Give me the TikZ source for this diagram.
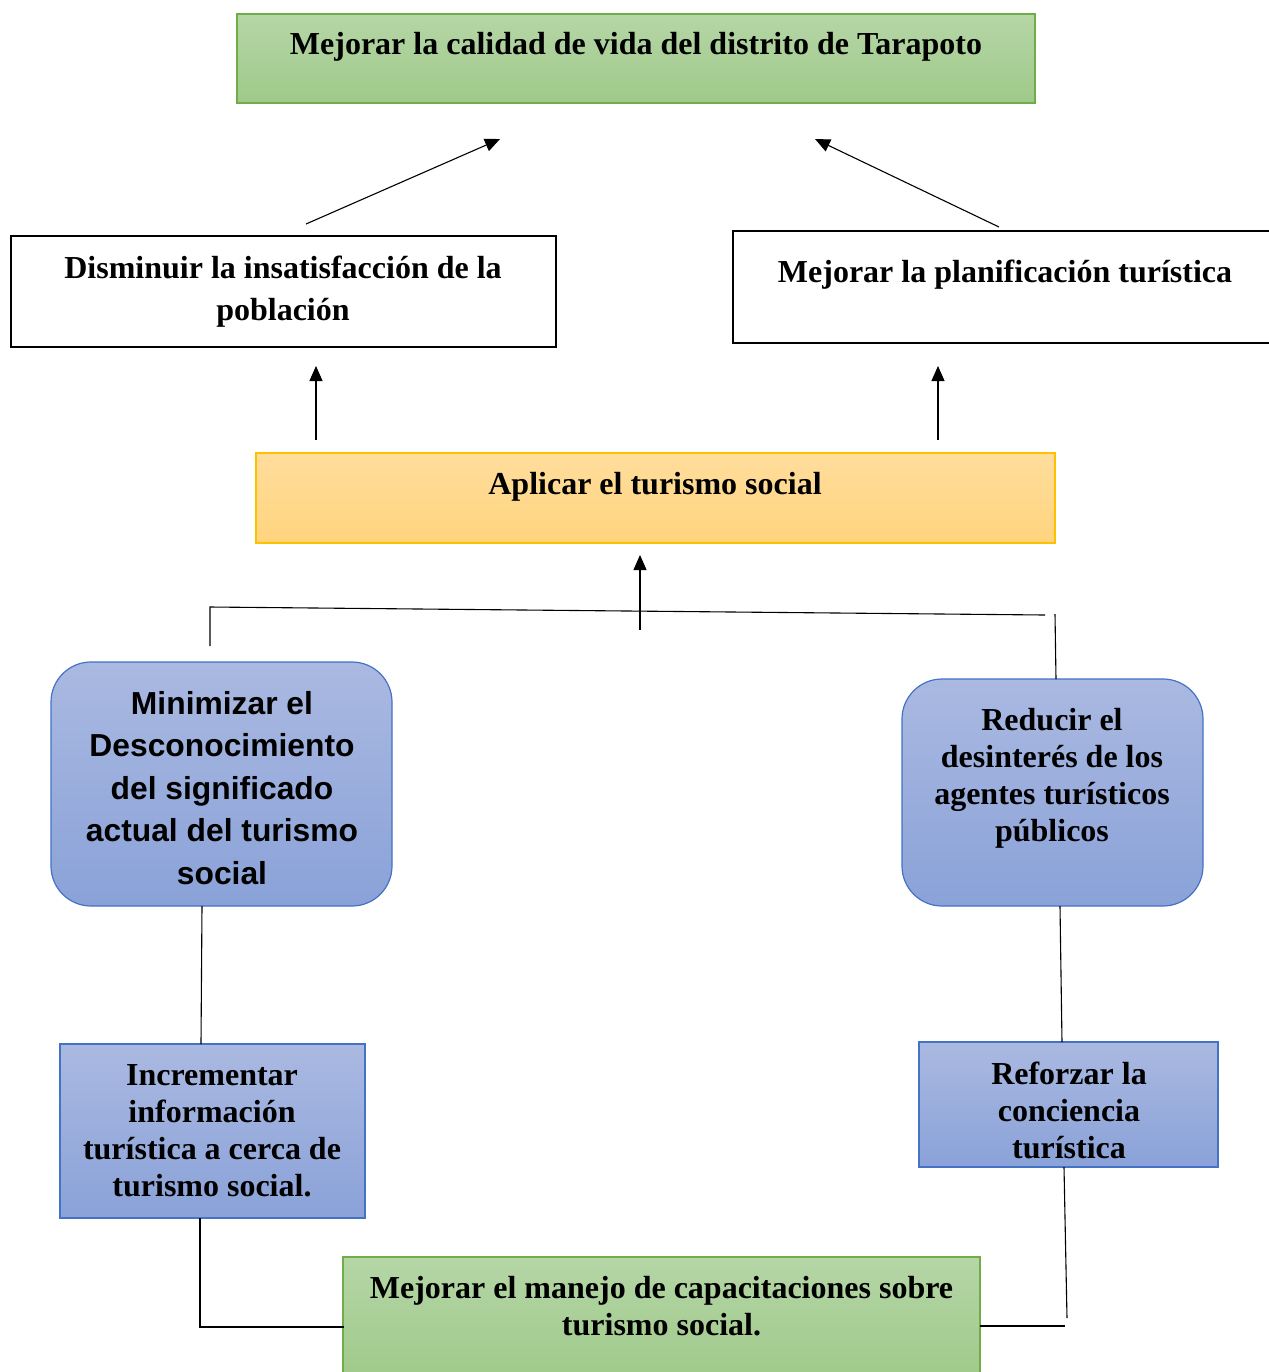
\documentclass[tikz,border=0pt]{standalone}
\usepackage{fontspec}
\setmainfont{Liberation Serif}
\newfontfamily\arialfont{Liberation Sans}
\usetikzlibrary{arrows.meta}
\definecolor{grTop}{HTML}{B5D6A6}
\definecolor{grBot}{HTML}{9FC98A}
\definecolor{grLine}{HTML}{70AD47}
\definecolor{yeTop}{HTML}{FFDD9C}
\definecolor{yeBot}{HTML}{FFD47E}
\definecolor{yeLine}{HTML}{FFC000}
\definecolor{blTop}{HTML}{AAB9E1}
\definecolor{blBot}{HTML}{8AA2D8}
\definecolor{blLine}{HTML}{4472C4}
\tikzset{
  greenbox/.style={draw=grLine, line width=0.6pt, top color=grTop, bottom color=grBot, inner sep=0pt},
  yellowbox/.style={draw=yeLine, line width=0.6pt, top color=yeTop, bottom color=yeBot, inner sep=0pt},
  bluebox/.style={draw=blLine, line width=0.6pt, top color=blTop, bottom color=blBot, inner sep=0pt},
  blueround/.style={bluebox, rounded corners=20pt},
  blackbox/.style={draw=black, line width=1.25pt, fill=white, inner sep=0pt},
  txt/.style={align=center, inner sep=0pt, font=\bfseries\fontsize{16}{18.5}\selectfont},
  stxt/.style={align=center, inner sep=0pt, font=\arialfont\bfseries\fontsize{15.9}{21.25}\selectfont},
  conn/.style={draw=black, line width=0.55pt},
  arr/.style={conn, -{Triangle[length=7.5pt,width=6.5pt]}}
}
\begin{document}
\begin{tikzpicture}[x=0.5pt, y=-0.5pt]
\useasboundingbox (0,0) rectangle (1269,1372);
% boxes
\node[greenbox, minimum width=399pt, minimum height=44.5pt] (goal) at (636,58.5) {};
\node[txt] (goalt) at (636,47) {Mejorar la calidad de vida del distrito de Tarapoto};

\node[blackbox, minimum width=272.5pt, minimum height=55.5pt] (dism) at (283.5,291.5) {};
\node[txt, font=\bfseries\fontsize{16}{21}\selectfont] (dismt) at (283,292) {Disminuir la insatisfacción de la\\población};

\node[blackbox, minimum width=271pt, minimum height=56pt] (plan) at (1004,287) {};
\node[txt] (plant) at (1005,275) {Mejorar la planificación turística};

\node[yellowbox, minimum width=399.5pt, minimum height=45pt] (apl) at (655.5,498) {};
\node[txt] (aplt) at (655,487) {Aplicar el turismo social};

\node[blueround, minimum width=170.5pt, minimum height=122pt] (mini) at (221.5,784) {};
\node[stxt] (minit) at (222,788) {Minimizar el\\Desconocimiento\\del significado\\actual del turismo\\social};

\node[blueround, minimum width=150.5pt, minimum height=113.5pt] (redu) at (1052.5,792.5) {};
\node[txt] (redut) at (1052,778) {Reducir el\\desinterés de los\\agentes turísticos\\públicos};

\node[bluebox, minimum width=152.5pt, minimum height=87pt] (incr) at (212.5,1131) {};
\node[txt] (incrt) at (212,1131) {Incrementar\\información\\turística a cerca de\\turismo social.};

\node[bluebox, minimum width=149.5pt, minimum height=62.5pt] (refo) at (1068.5,1104.5) {};
\node[txt] (refot) at (1069,1110) {Reforzar la\\conciencia\\turística};

\node[greenbox, minimum width=318.5pt, minimum height=61.5pt] (capa) at (661.5,1318.5) {};
\node[txt] (capat) at (661.5,1306) {Mejorar el manejo de capacitaciones sobre\\turismo social.};

% coordinates
\coordinate (a1s) at (306,224); \coordinate (a1e) at (500,139);
\coordinate (a2s) at (999,227); \coordinate (a2e) at (815,139);
\coordinate (a3s) at (316,440); \coordinate (a3e) at (316,366);
\coordinate (a4s) at (938,440); \coordinate (a4e) at (938,366);
\coordinate (a5s) at (640,630); \coordinate (a5e) at (640,555);
\coordinate (barL) at (210,607); \coordinate (barR) at (1045,615);
\coordinate (dropL) at (210,646);
\coordinate (dropRs) at (1055,614); \coordinate (dropRe) at (1056,679);
\coordinate (m1) at (202,906); \coordinate (m2) at (201,1044);
\coordinate (r1) at (1060,906); \coordinate (r2) at (1062,1042);
\coordinate (i1) at (200,1218); \coordinate (i2) at (200,1328);
\coordinate (i3) at (344,1327);
\coordinate (f1) at (1064,1167); \coordinate (f2) at (1067,1318);
\coordinate (f3) at (980,1326); \coordinate (f4) at (1065,1326);

% connectors
\draw[arr] (a1s) -- (a1e);
\draw[arr] (a2s) -- (a2e);
\draw[arr] (a3s) -- (a3e);
\draw[arr] (a4s) -- (a4e);
\draw[arr] (a5s) -- (a5e);
\draw[conn] (dropL) -- (barL) -- (barR);
\draw[conn] (dropRs) -- (dropRe);
\draw[conn] (m1) -- (m2);
\draw[conn] (r1) -- (r2);
\draw[conn] (i1) -- (i2);
\draw[conn] (200,1327) -- (i3);
\draw[conn] (f1) -- (f2);
\draw[conn] (f3) -- (f4);
\end{tikzpicture}
\end{document}
